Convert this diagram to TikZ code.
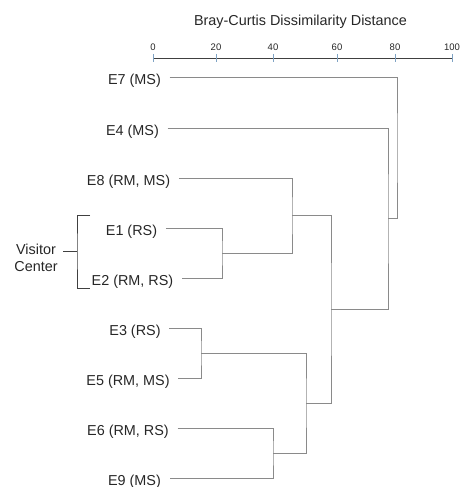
\documentclass[tikz,border=0pt]{standalone}
\usepackage{fontspec}
\setmainfont{Liberation Sans}
\definecolor{txt}{HTML}{262626}
\definecolor{brc}{HTML}{8A8A8A}
\definecolor{axc}{HTML}{404040}
\definecolor{tkc}{HTML}{7FA3C4}
\tikzset{
  leaf/.style={inner sep=0pt, text=txt, font=\fontsize{14.4}{17}\selectfont},
  ticklab/.style={inner sep=0pt, text=txt, font=\fontsize{9.5}{11}\selectfont},
  br/.style={draw=brc, line width=1pt},
  axisline/.style={draw=axc, line width=0.9pt},
  tickmark/.style={draw=tkc, line width=0.9pt},
  bracket/.style={draw=axc, line width=0.9pt}
}
\begin{document}
\begin{tikzpicture}[x=1pt,y=-1pt]
\useasboundingbox (0,0) rectangle (459,487);
% title and axis
\node[leaf] (title) at (300.5,22) {Bray-Curtis Dissimilarity Distance};
\coordinate (ax0) at (153,58);
\coordinate (ax100) at (452,58);
\draw[axisline] (ax0) -- (ax100);
\foreach \v/\xx in {0/153,20/216,40/273,60/337,80/395,100/452}{
  \draw[tickmark] (\xx,54) -- (\xx,62);
  \node[ticklab] (t\v) at (\xx,47) {\v};
}
% leaves
\node[leaf] (e7) at (134.5,80.5) {E7 (MS)};
\node[leaf] (e4) at (132.5,131.5) {E4 (MS)};
\node[leaf] (e8) at (128.5,181.5) {E8 (RM, MS)};
\node[leaf] (e1) at (131.5,231.5) {E1 (RS)};
\node[leaf] (e2) at (132.5,281.5) {E2 (RM, RS)};
\node[leaf] (e3) at (135,331.5) {E3 (RS)};
\node[leaf] (e5) at (128,381.5) {E5 (RM, MS)};
\node[leaf] (e6) at (128,431.5) {E6 (RM, RS)};
\node[leaf] (e9) at (134.5,481.5) {E9 (MS)};
\foreach \n in {7,4,8,1,2,3,5,6,9}{
  \coordinate (s\n) at ([shift={(8.5,-3.5)}]e\n.east);
}
% internal joins
\coordinate (a) at (222,253);
\coordinate (b) at (292,215.5);
\coordinate (c) at (201,353);
\coordinate (d) at (273,453);
\coordinate (e) at (306,403);
\coordinate (f) at (331,309.25);
\coordinate (g) at (388,218.6);
\coordinate (h) at (397,147.8);
\draw[br] (s1) -| (a) |- (s2);
\draw[br] (s8) -| (b) |- (a);
\draw[br] (s3) -| (c) |- (s5);
\draw[br] (s6) -| (d) |- (s9);
\draw[br] (c) -| (e) |- (d);
\draw[br] (b) -| (f) |- (e);
\draw[br] (s4) -| (g) |- (f);
\draw[br] (s7) -| (h) |- (g);
% visitor center bracket
\node[leaf, align=center] (vc) at (36,257.5) {Visitor\\Center};
\coordinate (bt) at (90,215);
\coordinate (bb) at (90,288);
\coordinate (bm) at (77,251);
\draw[bracket] (bt) -| (bm) |- (bb);
\draw[bracket] (bm) -- ++(-14,0) coordinate (bl);
\end{tikzpicture}
\end{document}
